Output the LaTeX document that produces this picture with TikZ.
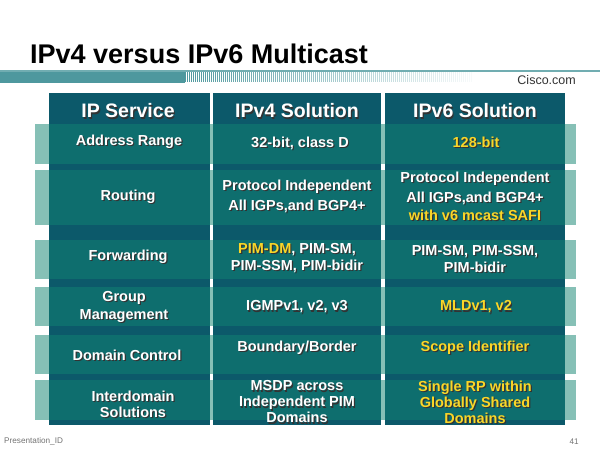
\documentclass[tikz,border=0pt]{standalone}
\usepackage{fontspec}
\setmainfont{Liberation Sans}
\usepackage{tikz}
\usetikzlibrary{calc}
\tikzset{>=stealth}
\definecolor{headteal}{RGB}{12,89,106}
\definecolor{rowteal}{RGB}{14,110,110}
\definecolor{tabteal}{RGB}{134,192,182}
\definecolor{barteal}{RGB}{78,152,158}
\definecolor{cellyellow}{RGB}{250,214,40}
\colorlet{hlcol}{cellyellow}
\newcommand{\hl}[1]{\textcolor{hlcol}{#1}}
\tikzset{celltxt/.style={align=center,inner sep=0pt,font=\fontsize{14.5}{16}\selectfont\bfseries},
  headtxt/.style={font=\fontsize{19.5}{22}\selectfont\bfseries}}
% shadowed white (or yellow) text: name, position, colour, text
\newcommand{\celltext}[5][]{%
  \node[celltxt,#1,text=black!80,xshift=1.2pt,yshift=-1.2pt,
    execute at begin node={\colorlet{hlcol}{black!80}}] (#2s) at (#3) {#5};
  \node[celltxt,#1,text=#4] (#2) at (#3) {#5};}

\begin{document}
\begin{tikzpicture}[x=1pt,y=-1pt]
\useasboundingbox (0,0) rectangle (600,450);
\node[anchor=base west,inner sep=0pt,font=\fontsize{27}{30}\selectfont\bfseries] (title) at (30,63) {IPv4 versus IPv6 Multicast};
\fill[barteal] (0,71) rectangle (185,83);
\foreach \x [evaluate=\x as \op using {1-(\x-185)/300}] in {185,187,...,471}
  \draw[barteal,line width=0.8pt,opacity=\op] (\x,72)--(\x,82);
\draw[barteal!80,line width=1.5pt] (0,71)--(600,71);
\node[anchor=base east,inner sep=0pt,font=\fontsize{12.5}{14}\selectfont,text=black!80] (cisco) at (576,84) {Cisco.com};
% table
\foreach \t/\b in {124/164,170/225,240/279,287/326,335/374,380/420}
  \fill[tabteal] (35,\t) rectangle (576,\b);
\foreach \l/\r in {49/210,213/381,385/565}{
  \fill[headteal] (\l,93) rectangle (\r,425);
  \foreach \t/\b in {124/164,170/225,240/279,287/326,335/374,380/420}
    \fill[rowteal] (\l,\t) rectangle (\r,\b);
}
\celltext[headtxt]{hservice}{128,111}{white}{IP Service}
\celltext[headtxt]{hfour}{297,111}{white}{IPv4 Solution}
\celltext[headtxt]{hsix}{475,111}{white}{IPv6 Solution}
\celltext{range}{129,142}{white}{Address Range}
\celltext{rangefour}{300,143}{white}{32-bit, class D}
\celltext{rangesix}{476,142}{cellyellow}{128-bit}
\celltext{routing}{128,197}{white}{Routing}
\celltext{routingfour}{297,196}{white}{Protocol Independent\\[4pt]All IGPs,and BGP4+}
\celltext{routingsix}{475,196}{white}{Protocol Independent\\[4pt]All IGPs,and BGP4+\\[2pt]\hl{with v6 mcast SAFI}}
\celltext{fwd}{128,257}{white}{Forwarding}
\celltext{fwdfour}{297,258}{white}{\hl{PIM-DM}, PIM-SM,\\[1pt]PIM-SSM, PIM-bidir}
\celltext{fwdsix}{475,259}{white}{PIM-SM, PIM-SSM,\\[1pt]PIM-bidir}
\celltext{group}{124,307}{white}{Group\\[2pt]Management}
\celltext{groupfour}{297,307}{white}{IGMPv1, v2, v3}
\celltext{groupsix}{476,307}{cellyellow}{MLDv1, v2}
\celltext{domain}{127,355}{white}{Domain Control}
\celltext{domainfour}{297,348}{white}{Boundary/Border}
\celltext{domainsix}{475,348}{cellyellow}{Scope Identifier}
\celltext{inter}{133,404}{white}{Interdomain\\Solutions}
\celltext{interfour}{297,402}{white}{MSDP across\\Independent PIM\\Domains}
\celltext{intersix}{475,402}{cellyellow}{Single RP within\\Globally Shared\\Domains}
\node[anchor=base west,inner sep=0pt,font=\fontsize{8.2}{9}\selectfont,text=black!55] (presid) at (4,443) {Presentation\_ID};
\node[anchor=base east,inner sep=0pt,font=\fontsize{8.2}{9}\selectfont,text=black!55] (pageno) at (579,444) {41};
\end{tikzpicture}
\end{document}
